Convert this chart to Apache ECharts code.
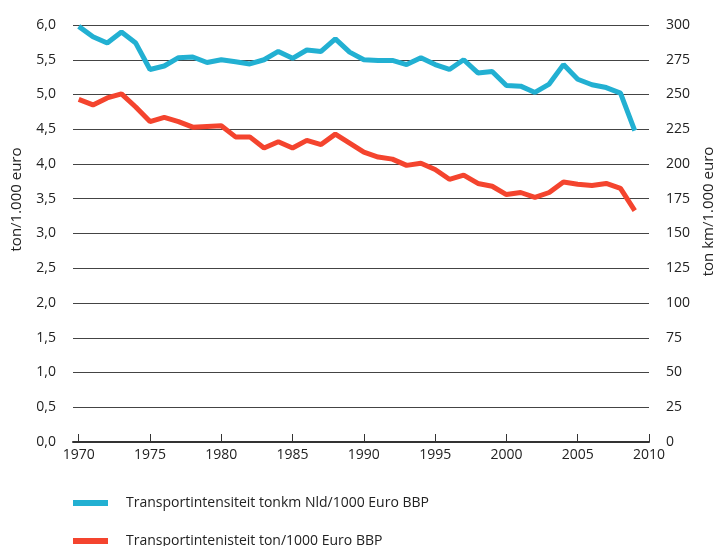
<!DOCTYPE html>
<html>
<head>
<meta charset="utf-8">
<script src="https://cdn.jsdelivr.net/npm/echarts@6/dist/echarts.min.js"></script>
<style>
	html, body { margin: 0; padding: 0; background: #fff; }
	#chart { width: 719px; height: 546px; }
</style>
</head>
<body>
<div id="chart"></div>
<script>
var years = [1970, 1971, 1972, 1973, 1974, 1975, 1976, 1977, 1978, 1979,
	1980, 1981, 1982, 1983, 1984, 1985, 1986, 1987, 1988, 1989,
	1990, 1991, 1992, 1993, 1994, 1995, 1996, 1997, 1998, 1999,
	2000, 2001, 2002, 2003, 2004, 2005, 2006, 2007, 2008, 2009];
// ton km / 1.000 euro (rechter as)
var tonkm = [299, 291.5, 287, 295, 287, 268, 270.5, 276.5, 277, 273,
	275, 273.5, 272, 275, 281, 276, 282, 281, 290, 280.5,
	275, 274.5, 274.5, 271.5, 276.5, 271.5, 268, 275, 265.5, 266.5,
	256.5, 256, 251.5, 257.5, 271.5, 261, 257, 255, 251, 224];
// ton / 1.000 euro (linker as)
var ton = [4.93, 4.85, 4.95, 5.01, 4.82, 4.61, 4.67, 4.61, 4.53, 4.54,
	4.55, 4.39, 4.39, 4.23, 4.32, 4.23, 4.34, 4.28, 4.43, 4.30,
	4.17, 4.10, 4.07, 3.98, 4.01, 3.92, 3.78, 3.84, 3.72, 3.68,
	3.56, 3.59, 3.52, 3.59, 3.74, 3.71, 3.69, 3.72, 3.65, 3.33];
var xTicks = [1970, 1975, 1980, 1985, 1990, 1995, 2000, 2005, 2010];
var seriesNames = ['Transportintensiteit tonkm Nld/1000 Euro BBP', 'Transportintenisteit ton/1000 Euro BBP'];

var fontFam = '"Open Sans", "Noto Sans", sans-serif';
var chart = echarts.init(document.getElementById('chart'), null, { renderer: 'canvas' });

function pairs(vals) {
	var out = [];
	for (var i = 0; i < years.length; i++) {
		out.push([years[i], vals[i]]);
	}
	return out;
}

var option = {
	animation: false,
	color: ['#22b0d2', '#f4442e'],
	grid: {
		left: 73,
		right: 70,
		top: 25,
		bottom: 104,
		outerBoundsMode: 'none'
	},
	legend: {
		orient: 'vertical',
		left: 73,
		top: 496,
		height: 120,
		padding: 0,
		itemWidth: 35,
		itemHeight: 6,
		itemGap: 24,
		icon: 'rect',
		textStyle: {
			fontFamily: fontFam,
			fontSize: 14,
			color: '#222',
			padding: [0, 0, 0, 13]
		},
		data: seriesNames
	},
	xAxis: {
		type: 'value',
		min: 1969.6,
		max: 2010,
		axisLine: {
			lineStyle: { color: '#333', width: 2 }
		},
		axisTick: {
			show: true,
			inside: true,
			length: 8,
			customValues: xTicks,
			lineStyle: { color: '#333', width: 1 }
		},
		axisLabel: {
			customValues: xTicks,
			margin: 6,
			color: '#222',
			fontFamily: fontFam,
			fontSize: 14,
			formatter: function(v) {
				return String(v);
			}
		},
		splitLine: { show: false }
	},
	yAxis: [{
		type: 'value',
		min: 0,
		max: 6,
		interval: 0.5,
		name: 'ton/1.000 euro',
		nameLocation: 'middle',
		nameGap: 49,
		nameTextStyle: {
			fontFamily: fontFam,
			fontSize: 15,
			color: '#222',
			padding: [0, 0, 0, 68]
		},
		axisLine: { show: false },
		axisTick: { show: false },
		axisLabel: {
			margin: 17,
			color: '#222',
			fontFamily: fontFam,
			fontSize: 14,
			formatter: function(v) {
				return v.toFixed(1).replace('.', ',');
			}
		},
		splitLine: {
			lineStyle: { color: '#444', width: 1 }
		}
	}, {
		type: 'value',
		min: 0,
		max: 300,
		interval: 25,
		position: 'right',
		name: 'ton km/1.000 euro',
		nameLocation: 'middle',
		nameGap: 52,
		nameTextStyle: {
			fontFamily: fontFam,
			fontSize: 15,
			color: '#222',
			padding: [0, 0, 0, 44]
		},
		axisLine: { show: false },
		axisTick: { show: false },
		axisLabel: {
			margin: 17,
			color: '#222',
			fontFamily: fontFam,
			fontSize: 14
		},
		splitLine: { show: false }
	}],
	series: [{
		name: seriesNames[0],
		type: 'line',
		yAxisIndex: 1,
		data: pairs(tonkm),
		symbol: 'none',
		lineStyle: { width: 5 }
	}, {
		name: seriesNames[1],
		type: 'line',
		yAxisIndex: 0,
		data: pairs(ton),
		symbol: 'none',
		lineStyle: { width: 5 }
	}]
};
chart.setOption(option, true);
</script>
</body>
</html>
